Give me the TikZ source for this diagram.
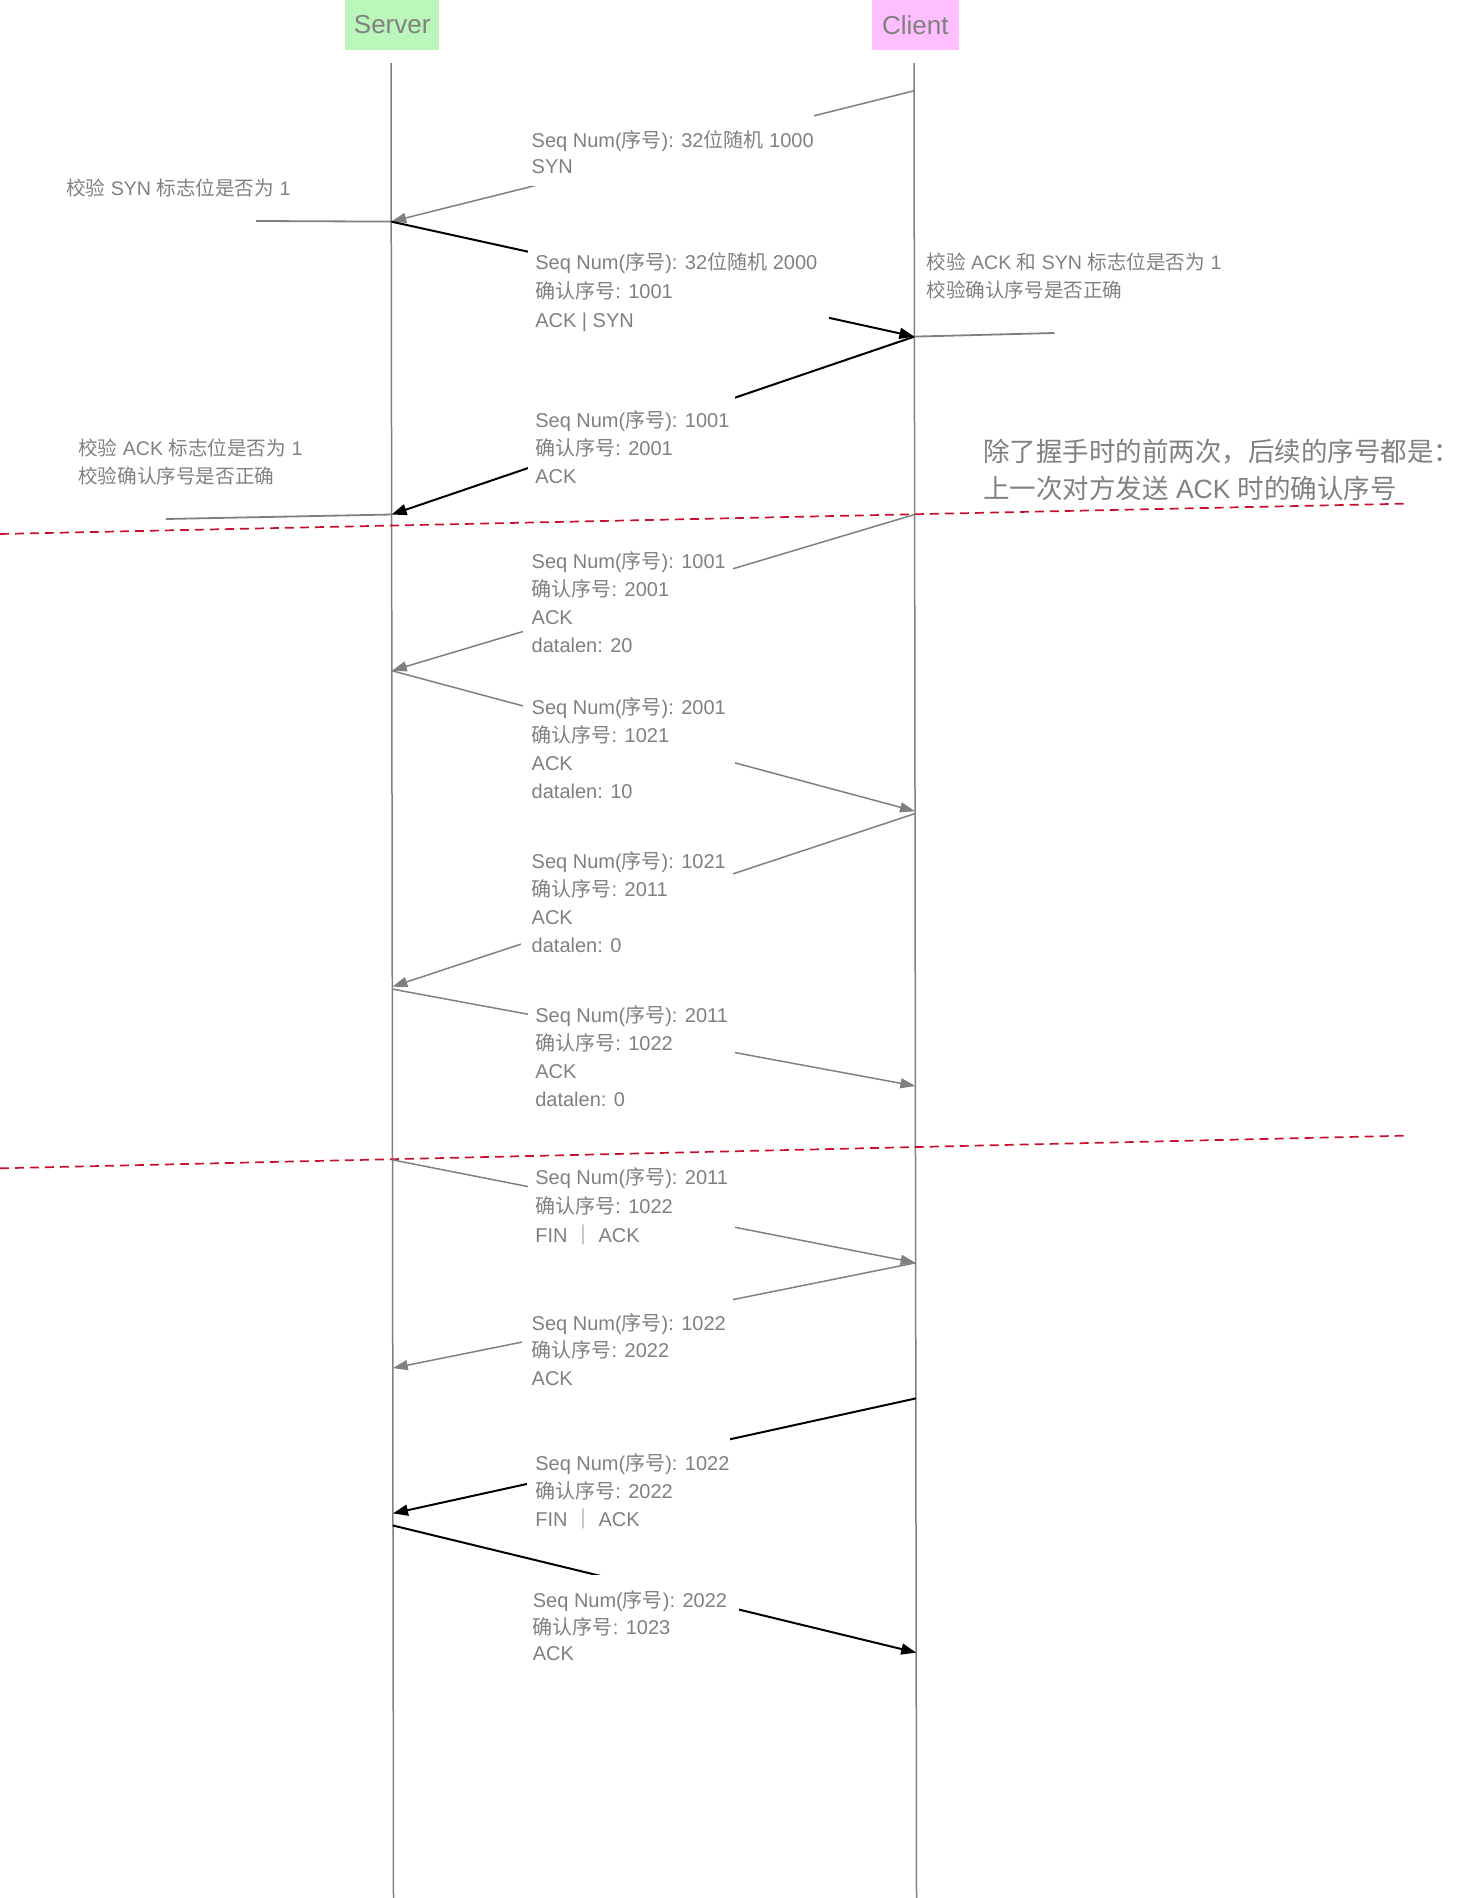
\documentclass[tikz,border=0pt]{standalone}
\usepackage{fontspec}
\setmainfont{Liberation Sans}
\newfontfamily\cjkfont{Noto Sans CJK SC}
\newcommand{\zh}[1]{{\cjkfont #1}}
\usetikzlibrary{arrows.meta}
\definecolor{tgray}{RGB}{128,128,128}
\definecolor{sgreen}{RGB}{187,247,187}
\definecolor{cpink}{RGB}{255,190,255}
\definecolor{dred}{RGB}{200,16,46}
\tikzset{
  lifeline/.style={draw=tgray, line width=1.5pt},
  msggray/.style={draw=tgray, line width=1.5pt, -{Triangle[length=15pt,width=10pt]}},
  msgblack/.style={draw=black, line width=2pt, -{Triangle[length=15pt,width=11pt]}},
  noteline/.style={draw=tgray, line width=1.8pt},
  reddash/.style={draw=dred, line width=1.7pt, dash pattern=on 9pt off 6pt},
  gapbox/.style={fill=white, draw=none, inner sep=0pt},
  hdr/.style={font=\fontsize{26}{30}\selectfont, text=tgray, inner sep=0pt, minimum height=49.6pt},
  lbl/.style={text=tgray, font=\fontsize{20}{28}\selectfont, align=left, anchor=west, inner sep=0pt},
  note/.style={text=tgray, font=\fontsize{19.6}{28}\selectfont, align=left, anchor=west, inner sep=0pt},
  bignote/.style={text=tgray, font=\fontsize{26.5}{37}\selectfont, align=left, anchor=west, inner sep=0pt}
}
\begin{document}
\begin{tikzpicture}[x=1pt,y=-1pt]
\useasboundingbox (0,0) rectangle (1471,1898);

% headers
\node[hdr, fill=sgreen, minimum width=94.5pt] (server) at (392.2,24.8) {Server};
\node[hdr, fill=cpink, minimum width=87.2pt] (client) at (915.3,24.8) {Client};

% lifelines
\coordinate (sTop) at (391,63);
\coordinate (sBot) at (393.5,1898);
\coordinate (cTop) at (914,63);
\coordinate (cBot) at (916.5,1898);
\draw[lifeline] (sTop) -- (sBot);
\draw[lifeline] (cTop) -- (cBot);

% red dashed separators
\coordinate (r1a) at (0,534);
\coordinate (r1b) at (1408,503.6);
\coordinate (r2a) at (0,1168.3);
\coordinate (r2b) at (1408,1135.6);
\draw[reddash] (r1a) -- (r1b);
\draw[reddash] (r2a) -- (r2b);

% message end points
\coordinate (c1) at (914,90.8);
\coordinate (s1) at (391.2,221.6);
\coordinate (c2) at (914.4,336.6);
\coordinate (s3) at (391.6,514.5);
\coordinate (c4) at (914.6,514.5);
\coordinate (s4) at (391.8,670.7);
\coordinate (c5) at (915,811.2);
\coordinate (c6) at (915,813.6);
\coordinate (s6) at (392.3,986.7);
\coordinate (s7) at (392.3,989.1);
\coordinate (c7) at (915.4,1086);
\coordinate (s8) at (392.5,1159.9);
\coordinate (c8) at (915.6,1262.8);
\coordinate (s9) at (392.8,1368.1);
\coordinate (c10) at (915.8,1398.4);
\coordinate (s10) at (393,1513.4);
\coordinate (s11) at (393,1525.5);
\coordinate (c11) at (916.2,1652.6);

% messages
\draw[msggray]  (c1) -- (s1);
\draw[msgblack] (s1) -- (c2);
\draw[msgblack] (c2) -- (s3);
\draw[msggray]  (c4) -- (s4);
\draw[msggray]  (s4) -- (c5);
\draw[msggray]  (c6) -- (s6);
\draw[msggray]  (s7) -- (c7);
\draw[msggray]  (s8) -- (c8);
\draw[msggray]  (c8) -- (s9);
\draw[msgblack] (c10) -- (s10);
\draw[msgblack] (s11) -- (c11);

% annotation lines
\coordinate (a1e) at (256,221);
\coordinate (a2e) at (166,519);
\coordinate (a3e) at (1054.5,333);
\draw[noteline] (a1e) -- (s1);
\draw[noteline] (a2e) -- (s3);
\draw[noteline] (c2) -- (a3e);

% label backgrounds (gaps in the lines)
\node[gapbox, minimum width=282.1pt, minimum height=71.4pt] (b1) at (672.6,150.7) {};
\node[gapbox, minimum width=301.4pt, minimum height=90pt] (b2) at (678.6,291.7) {};
\node[gapbox, minimum width=207pt, minimum height=102pt] (b3) at (631.4,447) {};
\node[gapbox, minimum width=209.5pt, minimum height=94pt] (b4) at (627.8,603) {};
\node[gapbox, minimum width=211.9pt, minimum height=96pt] (b5) at (629,748) {};
\node[gapbox, minimum width=211.9pt, minimum height=90pt] (b6) at (626.6,903) {};
\node[gapbox, minimum width=207pt, minimum height=92pt] (b7) at (631.4,1056) {};
\node[gapbox, minimum width=207pt, minimum height=76pt] (b8) at (631.4,1206) {};
\node[gapbox, minimum width=210.7pt, minimum height=104pt] (b9) at (627.2,1348) {};
\node[gapbox, minimum width=203.3pt, minimum height=110pt] (b10) at (628.4,1491) {};
\node[gapbox, minimum width=211.5pt, minimum height=103pt] (b11) at (632.8,1626.5) {};

% message labels
\node[lbl, font=\fontsize{20}{25.5}\selectfont] (t1) at (531.5,152) {Seq Num(\zh{序号}): 32\zh{位随机} 1000\\SYN};
\node[lbl, font=\fontsize{20}{29}\selectfont] (t2) at (535.1,291.7) {Seq Num(\zh{序号}): 32\zh{位随机} 2000\\\zh{确认序号}: 1001\\ACK | SYN};
\node[lbl] (t3) at (535.1,447.3) {Seq Num(\zh{序号}): 1001\\\zh{确认序号}: 2001\\ACK};
\node[lbl] (t4) at (531.5,601.7) {Seq Num(\zh{序号}): 1001\\\zh{确认序号}: 2001\\ACK\\datalen: 20};
\node[lbl] (t5) at (531.5,747.9) {Seq Num(\zh{序号}): 2001\\\zh{确认序号}: 1021\\ACK\\datalen: 10};
\node[lbl] (t6) at (531.5,902) {Seq Num(\zh{序号}): 1021\\\zh{确认序号}: 2011\\ACK\\datalen: 0};
\node[lbl] (t7) at (535.1,1055.8) {Seq Num(\zh{序号}): 2011\\\zh{确认序号}: 1022\\ACK\\datalen: 0};
\node[lbl, font=\fontsize{20}{29}\selectfont] (t8) at (535.1,1205.9) {Seq Num(\zh{序号}): 2011\\\zh{确认序号}: 1022\\FIN \zh{｜} ACK};
\node[lbl, font=\fontsize{20}{27.3}\selectfont] (t9) at (531.5,1349.4) {Seq Num(\zh{序号}): 1022\\\zh{确认序号}: 2022\\ACK};
\node[lbl] (t10) at (535.1,1491) {Seq Num(\zh{序号}): 1022\\\zh{确认序号}: 2022\\FIN \zh{｜} ACK};
\node[lbl, font=\fontsize{20}{26.6}\selectfont] (t11) at (532.7,1626) {Seq Num(\zh{序号}): 2022\\\zh{确认序号}: 1023\\ACK};

% annotations
\node[note] (n1) at (66,188.3) {\zh{校验} SYN \zh{标志位是否为} 1};
\node[note] (n2) at (78,462) {\zh{校验} ACK \zh{标志位是否为} 1\\\zh{校验确认序号是否正确}};
\node[note] (n3) at (926.2,276) {\zh{校验} ACK \zh{和} SYN \zh{标志位是否为} 1\\\zh{校验确认序号是否正确}};
\node[bignote] (n4) at (983,469.5) {\zh{除了握手时的前两次，后续的序号都是：}\\\zh{上一次对方发送} ACK \zh{时的确认序号}};
\end{tikzpicture}
\end{document}
